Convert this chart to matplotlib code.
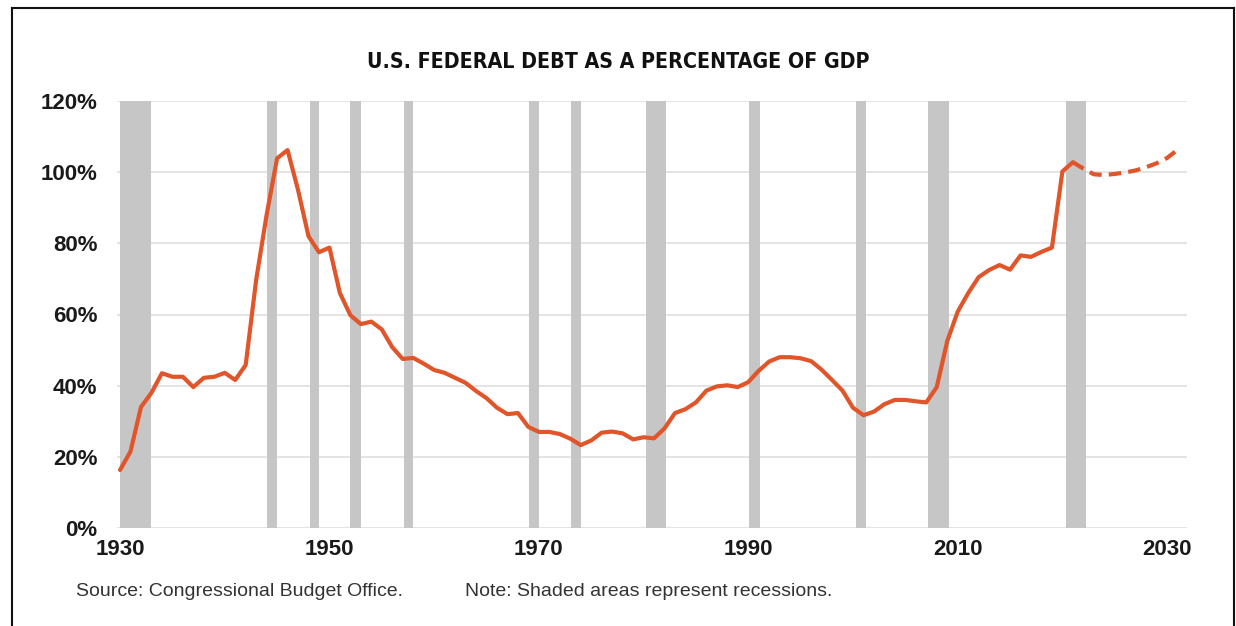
import matplotlib
matplotlib.use("Agg")
import matplotlib.pyplot as plt
from matplotlib.lines import Line2D
from matplotlib import font_manager

# ---------------- data ----------------
hist_years = list(range(1930, 2022))
hist_debt = [
    16.3, 21.5, 34.0, 38.0, 43.5, 42.5, 42.5, 39.6, 42.2, 42.5,   # 1930-1939
    43.6, 41.6, 45.8, 69.7, 88.0, 103.9, 106.2, 95.0, 82.0, 77.5,  # 1940-1949
    78.8, 66.0, 59.8, 57.3, 58.0, 55.8, 50.8, 47.5, 47.8, 46.2,    # 1950-1959
    44.4, 43.6, 42.2, 40.8, 38.5, 36.5, 33.8, 32.0, 32.3, 28.4,    # 1960-1969
    27.0, 27.0, 26.4, 25.1, 23.3, 24.6, 26.8, 27.1, 26.6, 24.9,    # 1970-1979
    25.5, 25.2, 28.0, 32.3, 33.4, 35.3, 38.6, 39.8, 40.1, 39.6,    # 1980-1989
    41.0, 44.2, 46.8, 48.0, 48.0, 47.7, 46.9, 44.5, 41.6, 38.6,    # 1990-1999
    33.8, 31.7, 32.7, 34.8, 36.0, 36.0, 35.6, 35.3, 39.6, 52.5,    # 2000-2009
    60.8, 66.0, 70.5, 72.5, 73.9, 72.6, 76.6, 76.2, 77.6, 78.8,    # 2010-2019
    100.2, 102.8,                                                  # 2020-2021
]
proj_years = list(range(2021, 2032))
proj_debt = [102.8, 101.0, 99.4, 99.2, 99.5, 99.9, 100.5, 101.4, 102.5, 104.0, 106.3]

recession_start = [1930.0, 1944.0, 1948.1, 1952.0, 1957.1, 1969.1, 1973.1,
                   1980.2, 1990.1, 2000.3, 2007.2, 2020.3]
recession_end = [1933.0, 1945.0, 1949.0, 1953.0, 1958.0, 1970.0, 1974.0,
                 1982.1, 1991.1, 2001.2, 2009.2, 2022.3]

x_ticks = [1930, 1950, 1970, 1990, 2010, 2030]
y_ticks = [0, 20, 40, 60, 80, 100, 120]
y_tick_labels = [f"{v}%" for v in y_ticks]

title = "U.S. FEDERAL DEBT AS A PERCENTAGE OF GDP"
source_text = "Source: Congressional Budget Office."
note_text = "Note: Shaded areas represent recessions."

# ---------------- fonts ----------------
ttf = font_manager.fontManager.ttflist
names = {f.name for f in ttf}
title_kw = dict(fontweight="bold")
if "Liberation Sans Narrow" in names:
    title_kw.update(family=["Liberation Sans Narrow", "DejaVu Sans"], fontsize=18)
elif any(f.name == "DejaVu Sans" and f.stretch == "condensed" for f in ttf):
    title_kw.update(family=["DejaVu Sans"], fontstretch="condensed", fontsize=15.3)
else:
    title_kw.update(family=["Liberation Sans", "DejaVu Sans"], fontsize=15.2)

# ---------------- style ----------------
W, H = 1236, 626
fig = plt.figure(figsize=(W / 100, H / 100), dpi=100)
fig.patch.set_facecolor("white")

line_color = "#E0552A"
shade_color = "#C6C6C6"
grid_color = "#E2E2E2"
tick_font = ["Liberation Sans", "Arial", "DejaVu Sans"]

ax_left, ax_right = 117, 1187
ax_top, ax_bottom = 101, 528
ax = fig.add_axes([ax_left / W, 1 - ax_bottom / H,
                   (ax_right - ax_left) / W, (ax_bottom - ax_top) / H])
ax.set_xlim(1929.71, 2031.9)
ax.set_ylim(0, 120)

for v in y_ticks:
    ax.axhline(v, color=grid_color, lw=1.3, zorder=1)

for s, e in zip(recession_start, recession_end):
    ax.axvspan(s, e, color=shade_color, lw=0, zorder=2)

ax.plot(hist_years, hist_debt, color=line_color, lw=3.0,
        solid_joinstyle="round", solid_capstyle="round", zorder=4)
ax.plot(proj_years, proj_debt, color=line_color, lw=3.0,
        dashes=(3.0, 1.7), zorder=4)

for sp in ax.spines.values():
    sp.set_visible(False)
ax.set_xticks(x_ticks)
ax.set_xticklabels([str(t) for t in x_ticks])
ax.set_yticks(y_ticks)
ax.set_yticklabels(y_tick_labels)
ax.tick_params(axis="both", length=0)
ax.tick_params(axis="y", pad=14)
ax.tick_params(axis="x", pad=8)
for lab in ax.get_xticklabels() + ax.get_yticklabels():
    lab.set_fontfamily(tick_font)
    lab.set_fontweight("bold")
    lab.set_fontsize(16)
    lab.set_color("#1a1a1a")

fig.text(0.5, 1 - 62 / H, title, ha="center", va="center",
         color="#111111", **title_kw)

fig.text(76 / W, 1 - 591 / H, source_text, ha="left", va="center",
         fontsize=14, family=tick_font, color="#333333")
fig.text(465 / W, 1 - 591 / H, note_text, ha="left", va="center",
         fontsize=14, family=tick_font, color="#333333")

# outer frame (left, top, right)
frame_kw = dict(color="#111111", lw=1.5, transform=fig.transFigure)
fig.add_artist(Line2D([12 / W, 12 / W], [0, 1 - 8 / H], **frame_kw))
fig.add_artist(Line2D([12 / W, 1234 / W], [1 - 8 / H, 1 - 8 / H], **frame_kw))
fig.add_artist(Line2D([1234 / W, 1234 / W], [0, 1 - 8 / H], **frame_kw))

fig.savefig("out.png", dpi=100, facecolor="white")
